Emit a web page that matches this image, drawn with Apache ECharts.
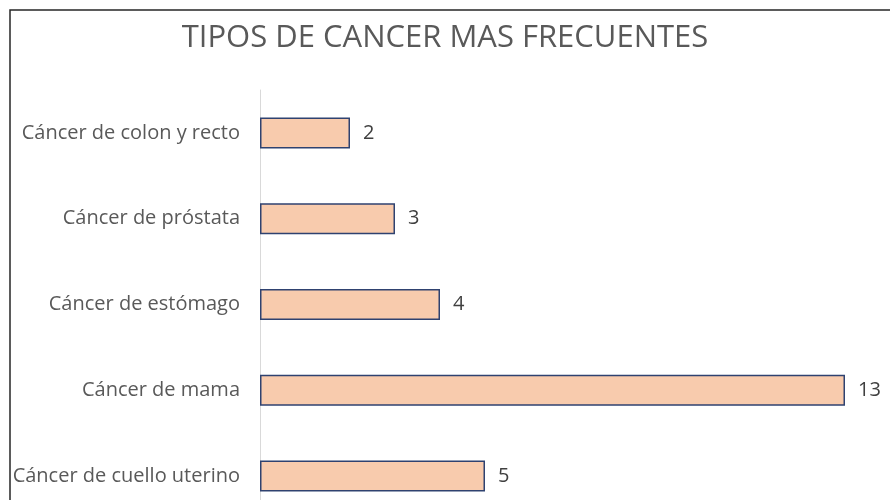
<!DOCTYPE html>
<html>
    <head>
        <meta charset="utf-8">
        <title>Tipos de cancer</title>
        <script src="https://cdn.jsdelivr.net/npm/echarts@6/dist/echarts.min.js"></script>
        <style>body{margin:0;background:#fff;}</style>
    </head>
    <body>
        <div id="main" style="width:890px;height:500px;"></div>
        <script type="text/javascript">
            // categorias de abajo hacia arriba
            var categorias = ['Cáncer de cuello uterino', 'Cáncer de mama', 'Cáncer de estómago', 'Cáncer de próstata', 'Cáncer de colon y recto'];
            var casos = [5, 13, 4, 3, 2];

            var mychart = echarts.init(document.getElementById('main'));
            var option = {
                backgroundColor: '#fff',
                title: {
                    text: 'TIPOS DE CANCER MAS FRECUENTES',
                    left: 'center',
                    top: 18,
                    textStyle: {
                        color: '#595959',
                        fontSize: 31,
                        fontWeight: 'normal',
                        fontFamily: 'Open Sans'
                    }
                },
                graphic: [{
                    type: 'rect',
                    shape: { x: 10, y: 10, width: 900, height: 600 },
                    style: { fill: 'none', stroke: '#262626', lineWidth: 1.5 },
                    silent: true
                }],
                grid: {
                    left: 260,
                    width: 630,
                    top: 90,
                    height: 429,
                    outerBoundsMode: 'none'
                },
                xAxis: {
                    type: 'value',
                    min: 0,
                    max: 14,
                    show: false
                },
                yAxis: {
                    type: 'category',
                    data: categorias,
                    axisLine: { show: true, lineStyle: { color: '#d9d9d9', width: 1 } },
                    axisTick: { show: false },
                    axisLabel: {
                        color: '#595959',
                        fontSize: 20,
                        fontFamily: 'Open Sans',
                        margin: 20
                    }
                },
                series: [{
                    type: 'bar',
                    data: casos,
                    barWidth: 31,
                    itemStyle: {
                        color: '#F8CBAD',
                        borderColor: '#2F4270',
                        borderWidth: 1.5
                    },
                    label: {
                        show: true,
                        position: 'right',
                        distance: 13,
                        color: '#404040',
                        fontSize: 20,
                        fontFamily: 'Open Sans'
                    }
                }]
            };
            mychart.setOption(option);
        </script>
    </body>
</html>
